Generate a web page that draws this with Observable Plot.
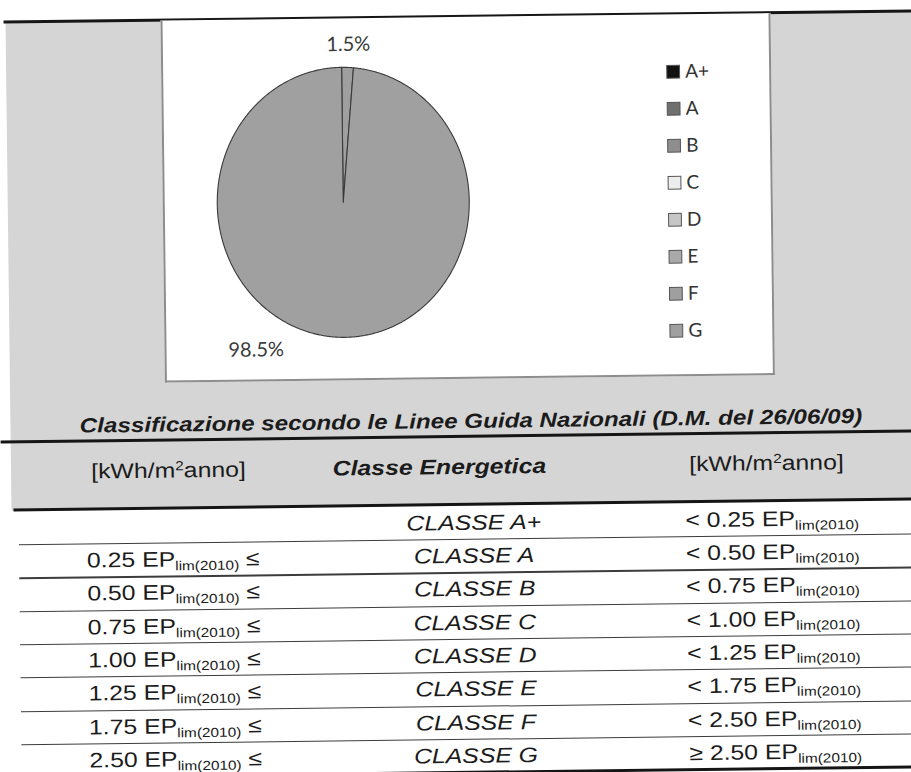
<!DOCTYPE html>
<html><head><meta charset="utf-8">
<script src="https://cdn.jsdelivr.net/npm/d3@7"></script>
<script src="https://cdn.jsdelivr.net/npm/@observablehq/plot@0.6"></script>
<style>
html,body{margin:0;padding:0;background:#fff;}
#page{position:relative;width:911px;height:772px;overflow:hidden;background:#fff;}
#sheet{position:absolute;left:0;top:0;width:911px;height:772px;transform:rotate(-0.7deg);transform-origin:455px 386px;}
.abs{position:absolute;}
.t{position:absolute;width:1000px;text-align:center;font-family:"Liberation Sans",Arial,sans-serif;font-size:21px;line-height:24px;height:24px;color:#1b1b1b;white-space:nowrap;}
.st{display:inline-block;transform:scaleX(1.18);}
.t sub{font-size:0.62em;vertical-align:-0.3em;line-height:0;}
.t sup{font-size:0.62em;vertical-align:0.55em;line-height:0;}
.it{font-style:italic;}
.bi{font-style:italic;font-weight:bold;}
.plot{position:absolute;left:0;top:0;}
</style></head>
<body>
<div id="page"><div id="sheet"></div></div>
<script>
// ---- pie data ----
const classes = ["A+", "A", "B", "C", "D", "E", "F", "G"];
const shares = [0, 0, 0, 0, 0, 0, 1.5, 98.5];
const classColors = ["#111111", "#6f6f6f", "#8e8e8e", "#ededed", "#c6c6c6", "#a9a9a9", "#9f9f9f", "#a0a0a0"];

// ---- table data ----
const lowerBounds = ["", "0.25", "0.50", "0.75", "1.00", "1.25", "1.75", "2.50"];
const tableClasses = ["A+", "A", "B", "C", "D", "E", "F", "G"];
const upperBounds = ["< 0.25", "< 0.50", "< 0.75", "< 1.00", "< 1.25", "< 1.75", "< 2.50", "≥ 2.50"];
const titleText = "Classificazione secondo le Linee Guida Nazionali (D.M. del 26/06/09)";
const headerLeft = "[kWh/m<sup>2</sup>anno]";
const headerMid = "Classe Energetica";
const headerRight = "[kWh/m<sup>2</sup>anno]";

// ---- layout ----
const PIE = {cx: 345, cy: 200.5, rx: 126, ry: 135};
const labelPlacement = {F: {angle: null, r: 1.17}, G: {angle: 213, r: 1.295}};
const sheet = document.getElementById("sheet");

function box(x, y, w, h, style) {
  const d = document.createElement("div");
  d.className = "abs";
  Object.assign(d.style, {left: x + "px", top: y + "px", width: w + "px", height: h + "px"}, style);
  sheet.appendChild(d);
  return d;
}
function text(cx, cy, html, cls, fs) {
  const d = document.createElement("div");
  d.className = "t " + (cls || "");
  d.style.left = (cx - 500) + "px";
  d.style.top = (cy - 12) + "px";
  if (fs) d.style.fontSize = fs + "px";
  d.innerHTML = `<span class="st">${html}</span>`;
  sheet.appendChild(d);
}

// backgrounds and rules
box(10, 17, 940, 488, {background: "#d5d5d5"});
box(8, 14.5, 950, 3, {background: "#161616"});
box(165, 17, 610, 362, {background: "#fff", border: "2px solid #8d8d8d", borderTop: "none", boxSizing: "border-box"});

// ---- pie via Plot ----
const pie = d3.pie().sort(null).value(d => d.v)(classes.map((c, i) => ({c, v: shares[i]})));
const piePoints = [];
const labels = [];
const total = d3.sum(shares);
for (const s of pie) {
  if (s.data.v <= 0) continue;
  const a0 = s.startAngle, a1 = s.endAngle;
  const n = Math.max(2, Math.ceil((a1 - a0) / (Math.PI / 360)));
  piePoints.push({cls: s.data.c, x: 0, y: 0});
  for (let k = 0; k <= n; k++) {
    const a = a0 + (a1 - a0) * k / n;
    piePoints.push({cls: s.data.c, x: Math.sin(a), y: Math.cos(a)});
  }
  piePoints.push({cls: s.data.c, x: 0, y: 0});
  const lp = labelPlacement[s.data.c];
  const la = lp.angle == null ? (a0 + a1) / 2 : lp.angle * Math.PI / 180;
  labels.push({x: Math.sin(la) * lp.r, y: Math.cos(la) * lp.r, text: (s.data.v / total * 100).toFixed(1) + "%"});
}

const piePlot = Plot.plot({
  width: 911, height: 772, margin: 0,
  x: {domain: [-1, 1], range: [PIE.cx - PIE.rx, PIE.cx + PIE.rx], axis: null},
  y: {domain: [-1, 1], range: [PIE.cy + PIE.ry, PIE.cy - PIE.ry], axis: null},
  color: {domain: classes, range: classColors},
  style: {background: "transparent", overflow: "visible"},
  marks: [
    Plot.line(piePoints, {x: "x", y: "y", z: "cls", fill: "cls", stroke: "#3a3a3a", strokeWidth: 1.1, curve: "linear-closed"}),
    Plot.text(labels, {x: "x", y: "y", text: "text", fontSize: 20, fontFamily: "Lato, 'Open Sans', sans-serif", fill: "#3a3a3a"})
  ]
});
piePlot.classList.add("plot");
sheet.appendChild(piePlot);

// ---- legend via Plot ----
const legendPlot = Plot.plot({
  width: 911, height: 772, margin: 0,
  x: {domain: [0, 1], range: [676.5, 700], axis: null},
  y: {type: "point", domain: classes, range: [71.5, 334.5], padding: 0, axis: null},
  color: {domain: classes, range: classColors},
  style: {background: "transparent", overflow: "visible"},
  marks: [
    Plot.dot(classes, {x: () => 0, y: d => d, symbol: "square", r: 7.2, fill: d => d, stroke: "#555", strokeWidth: 1}),
    Plot.text(classes, {x: () => 0, y: d => d, text: d => d, dx: 12, textAnchor: "start", fontSize: 19, fontFamily: "Lato, 'Open Sans', sans-serif", fill: "#333"})
  ]
});
legendPlot.classList.add("plot");
sheet.appendChild(legendPlot);

// ---- title + table ----
text(471, 421, titleText, "bi", 20.5);
box(0, 434.5, 950, 3, {background: "#151515"});

text(167, 467, headerLeft);
text(438, 467, headerMid, "bi");
text(765, 467, headerRight);
box(12, 503, 950, 3.2, {background: "#151515"});

const firstLine = 539, rowH = 33.3;
for (let i = 0; i < tableClasses.length; i++) {
  const top = i === 0 ? 505 : firstLine + (i - 1) * rowH;
  const bottom = firstLine + i * rowH;
  const cy = (top + bottom) / 2 + 0.5;
  if (lowerBounds[i]) text(171, cy, `${lowerBounds[i]} EP<sub>lim(2010)</sub> ≤`);
  text(472, cy, `CLASSE ${tableClasses[i]}`, "it");
  text(771, cy, `${upperBounds[i]} EP<sub>lim(2010)</sub>`);
  if (i < tableClasses.length - 1) box(17, bottom, 950, 1.3, {background: "#3c3c3c"});
  else box(17, bottom - 1, 950, 3, {background: "#151515"});
}
</script>
</body></html>
